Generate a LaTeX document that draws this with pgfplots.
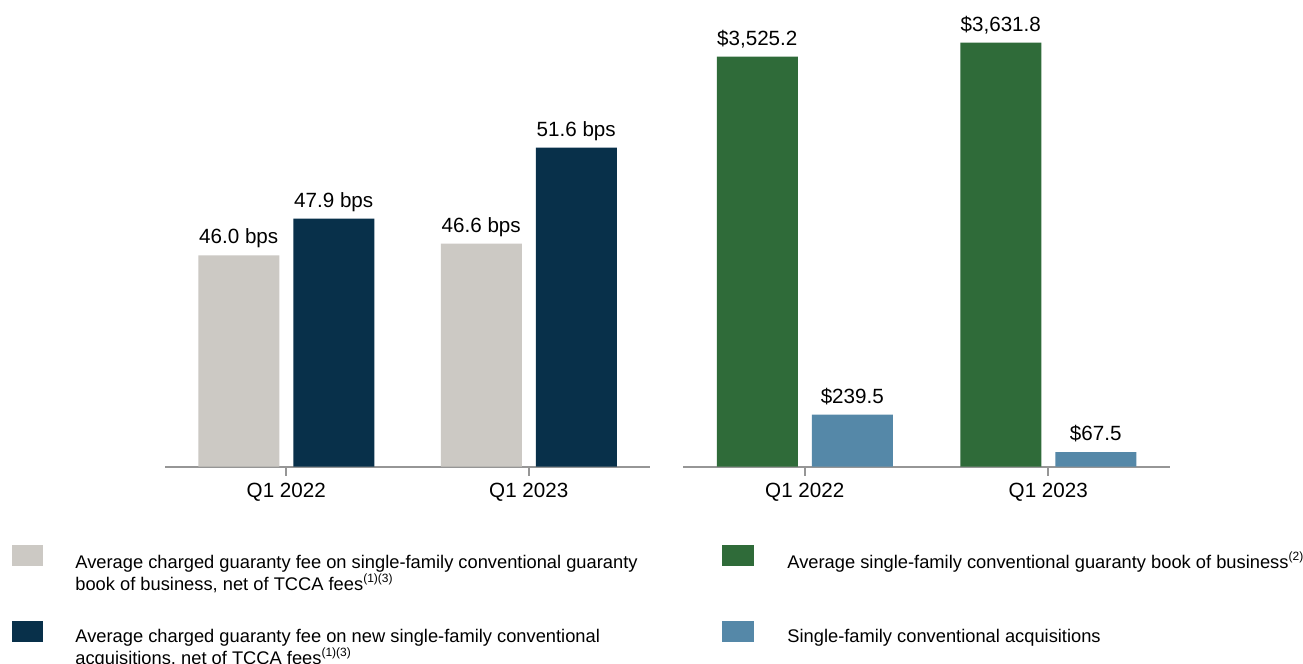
\documentclass[border=0pt]{standalone}
\usepackage{pgfplots}
\pgfplotsset{compat=1.18}
\usepackage{fontspec}
\setmainfont{Liberation Sans}

\definecolor{feegray}{RGB}{204,201,196}
\definecolor{feenavy}{RGB}{8,48,74}
\definecolor{bookgreen}{RGB}{47,107,57}
\definecolor{acqblue}{RGB}{85,136,168}
\definecolor{axisgray}{RGB}{150,150,150}

\newcommand\lbl{\fontsize{10.3bp}{12bp}\selectfont}
\newcommand\lgd{\fontsize{9.15bp}{10.85bp}\selectfont}
\newcommand\fn[1]{\textsuperscript{\fontsize{6bp}{6bp}\selectfont #1}}

\pgfplotsset{
  panel/.style={
    scale only axis, height=230bp, anchor=south west,
    ybar, bar width=40.5bp,
    xmin=-0.5, xmax=1.5, clip=false,
    axis x line=bottom, hide y axis,
    axis line style={-, draw=axisgray, line width=1bp},
    xtick={0,1}, xticklabels={Q1 2022, Q1 2023},
    xtick align=outside, major tick length=4.5bp,
    tick style={draw=axisgray, line width=0.8bp},
    xticklabel style={font=\lbl, text=black},
    point meta=explicit symbolic,
    nodes near coords,
    every node near coord/.append style={font=\lbl, text=black, anchor=base, yshift=5.8bp},
  },
}

\begin{document}
\begin{tikzpicture}
\path[fill=white, use as bounding box] (0,0) rectangle (651.5bp,-332bp);

% left: guaranty fees (bps)
\begin{axis}[panel, at={(82.5bp,-233.35bp)}, width=242.5bp, ymin=35, ymax=58.93]
  \addplot[fill=feegray, draw=none, bar shift=-23.75bp] coordinates {
    (0,46.0) [46.0 bps]
    (1,46.6) [46.6 bps]
  };
  \addplot[fill=feenavy, draw=none, bar shift=23.75bp] coordinates {
    (0,47.9) [47.9 bps]
    (1,51.6) [51.6 bps]
  };
\end{axis}

% right: book of business
\begin{axis}[panel, at={(341.5bp,-233.35bp)}, width=243.5bp, ymin=400, ymax=3906]
  \addplot[fill=bookgreen, draw=none, bar shift=-23.75bp] coordinates {
    (0,3525.2) [\$3,525.2]
    (1,3631.8) [\$3,631.8]
  };
\end{axis}
% right: acquisitions, own scale
\begin{axis}[panel, at={(341.5bp,-233.35bp)}, width=243.5bp, ymin=0, ymax=2115, hide x axis]
  \addplot[fill=acqblue, draw=none, bar shift=23.75bp] coordinates {
    (0,239.5) [\$239.5]
    (1,67.5) [\$67.5]
  };
\end{axis}

% legend
\fill[feegray]   (6.15bp,-272.5bp) rectangle (21.35bp,-283bp);
\fill[feenavy]   (6.15bp,-310.5bp) rectangle (21.35bp,-321bp);
\fill[bookgreen] (361bp,-272.5bp) rectangle (377bp,-283bp);
\fill[acqblue]   (361bp,-310.5bp) rectangle (377bp,-321bp);
\begin{scope}[every node/.style={anchor=base west, inner sep=0pt, font=\lgd}]
  \node at (37.5bp,-284.15bp) {Average charged guaranty fee on single-family conventional guaranty};
  \node at (37.5bp,-295bp) {book of business, net of TCCA fees\fn{(1)(3)}};
  \node at (37.5bp,-321.15bp) {Average charged guaranty fee on new single-family conventional};
  \node at (37.5bp,-332bp) {acquisitions, net of TCCA fees\fn{(1)(3)}};
  \node at (393.5bp,-284.15bp) {Average single-family conventional guaranty book of business\fn{(2)}};
  \node at (393.5bp,-321.15bp) {Single-family conventional acquisitions};
\end{scope}
\end{tikzpicture}
\end{document}
